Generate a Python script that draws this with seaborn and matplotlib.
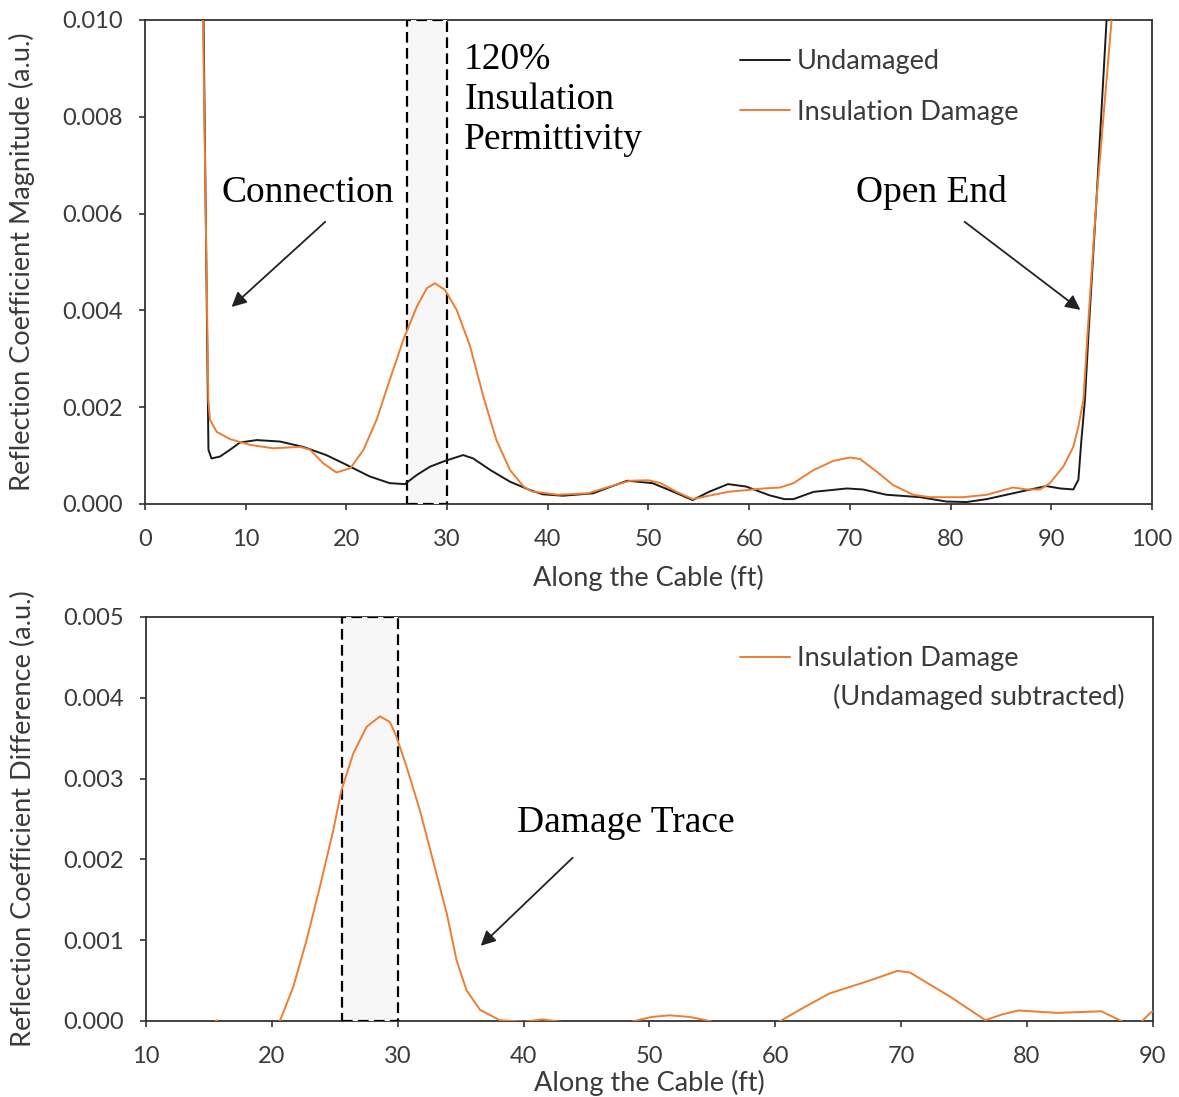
import numpy as np
import pandas as pd
import matplotlib
matplotlib.use("Agg")
import matplotlib.pyplot as plt
from matplotlib.ticker import FormatStrFormatter, MultipleLocator
import seaborn as sns

# ---- reflection coefficient magnitude along the cable (top panel) ----
undamaged_ft = [5.8, 6.25, 6.3, 6.6, 7.45, 8.44, 9.43, 11.1, 13.4, 15.7, 18.0, 20.0,
                22.3, 24.3, 25.8, 27.0, 28.3, 29.8, 31.6, 32.6, 34.3, 36.25, 38.2,
                39.5, 41.5, 44.5, 46.3, 47.9, 50.4, 52.5, 54.4, 56.0, 57.9, 59.7,
                62.0, 63.5, 64.4, 66.4, 69.7, 71.3, 73.65, 77.0, 79.6, 81.6, 83.6,
                86.2, 89.5, 90.9, 92.2, 92.7, 93.0, 93.35, 93.7, 94.5, 95.5, 95.8]
undamaged_mag = [0.0102, 0.0020, 0.00112, 0.00094, 0.00098, 0.00112, 0.00127, 0.00132,
                 0.00129, 0.00118, 0.00101, 0.00081, 0.00057, 0.00043, 0.00041, 0.0006,
                 0.00077, 0.00089, 0.00101, 0.00094, 0.0007, 0.00046, 0.00029, 0.0002,
                 0.00017, 0.00022, 0.00036, 0.00048, 0.00043, 0.00025, 0.00008,
                 0.00025, 0.00041, 0.00036, 0.00018, 0.0001, 0.0001, 0.00025, 0.00032,
                 0.0003, 0.00019, 0.00014, 0.00005, 0.00004, 0.0001, 0.00022, 0.00037,
                 0.00032, 0.0003, 0.0005, 0.00132, 0.00215, 0.0035, 0.0063, 0.0100, 0.0108]

damaged_ft = [5.75, 6.29, 6.45, 7.12, 8.44, 10.43, 12.74, 15.4, 16.4, 17.7, 19.0, 20.4,
              21.7, 23.0, 24.3, 25.65, 27.0, 28.0, 28.8, 29.8, 30.95, 32.3, 33.6, 34.9,
              36.25, 37.6, 38.4, 41.0, 44.0, 46.0, 48.2, 50.0, 51.2, 52.8, 54.4, 56.0,
              57.9, 61.4, 63.06, 64.4, 66.4, 68.35, 70.0, 71.0, 72.66, 74.3, 76.3,
              77.95, 81.26, 83.6, 86.2, 87.55, 88.9, 89.87, 91.2, 92.2, 92.7, 93.2,
              93.6, 94.5, 96.0, 96.3]
damaged_mag = [0.0102, 0.00215, 0.00174, 0.00149, 0.00134, 0.00122, 0.00115, 0.00118,
               0.00112, 0.00084, 0.00065, 0.00074, 0.00112, 0.00174, 0.00256, 0.00339,
               0.00408, 0.00446, 0.00456, 0.00442, 0.00401, 0.00325, 0.00222, 0.00132,
               0.0007, 0.00036, 0.00026, 0.00019, 0.00022, 0.00035, 0.00048, 0.00049,
               0.00043, 0.00025, 0.0001, 0.00017, 0.00025, 0.00032, 0.00034, 0.00043,
               0.0007, 0.00089, 0.00096, 0.00093, 0.00067, 0.00039, 0.00019, 0.00014,
               0.00014, 0.00019, 0.00034, 0.0003, 0.0003, 0.00043, 0.00077, 0.00118,
               0.0016, 0.00215, 0.0035, 0.0063, 0.0100, 0.0108]

# ---- damaged minus undamaged (bottom panel) ----
diff_ft = [10.0, 13.0, 15.0, 15.6, 16.2, 18.5, 20.64, 21.7, 22.76, 23.82, 24.88, 25.54,
           26.47, 27.53, 28.59, 29.38, 29.9, 30.7, 31.76, 32.8, 33.9, 34.68, 35.47,
           36.53, 38.1, 39.2, 40.0, 41.5, 43.0, 45.5, 48.8, 50.2, 51.6, 53.2, 54.8,
           57.5, 60.4, 62.3, 64.3, 67.5, 69.7, 70.7, 72.3, 73.9, 76.7, 78.0, 79.3,
           82.4, 85.9, 87.5, 88.5, 89.8, 90.0]
diff_val = [-0.0003, -0.0004, -0.0001, 0.00001, -0.0001, -0.0008, 0.0, 0.00042, 0.001,
            0.00166, 0.00236, 0.00286, 0.00331, 0.00364, 0.00377, 0.0037, 0.00352,
            0.00315, 0.00261, 0.00199, 0.00133, 0.00075, 0.00038, 0.00014, 0.00001,
            0.0, -0.00001, 0.00002, -0.00001, -0.0002, 0.0, 0.00005, 0.00007, 0.00005,
            0.0, -0.0002, 0.0, 0.00017, 0.00034, 0.0005, 0.00062, 0.0006, 0.00045,
            0.0003, 0.00001, 0.00008, 0.00013, 0.0001, 0.00012, 0.0, -0.0001, 0.0001,
            0.00012]

damage_zone_top = (26.0, 30.0)
damage_zone_bottom = (25.6, 30.0)

ORANGE = "#ED7D31"
BLACK = "#1a1a1a"
TEXT = "#3a3a3a"

sns.set_theme(style="white")
plt.rcParams["font.family"] = ["Lato", "DejaVu Sans"]

fig = plt.figure(figsize=(11.79, 10.97), dpi=100)
ax1 = fig.add_axes([0.123, 0.5406, 0.854, 0.4412])
ax2 = fig.add_axes([0.1238, 0.0693, 0.854, 0.3683])

TICK_FS = 17
LABEL_FS = 19.5
NOTE_FS = 27
SERIF = ["Liberation Serif", "DejaVu Serif"]
DASH = (0, (4.8, 2.4))

def style_axes(ax):
    for s in ax.spines.values():
        s.set_visible(True)
        s.set_color("#333333")
        s.set_linewidth(1.3)
    ax.tick_params(axis="both", which="major", direction="out", length=4,
                   width=1.2, color="#333333", labelsize=TICK_FS, labelcolor=TEXT,
                   bottom=True, left=True)
    ax.tick_params(axis="y", pad=12)
    ax.tick_params(axis="x", pad=14)
    ax.yaxis.set_major_formatter(FormatStrFormatter("%.3f"))

def place_labels(ax, xlabel, ylabel):
    ax.set_xlabel(xlabel, fontsize=LABEL_FS, color=TEXT)
    ax.set_ylabel(ylabel, fontsize=LABEL_FS, color=TEXT)
    ax.xaxis.set_label_coords(0.5, -0.153)
    ax.xaxis.label.set_va("center")
    ax.yaxis.set_label_coords(-0.122, 0.5)
    ax.yaxis.label.set_va("center")

arrow = dict(arrowstyle="-|>", mutation_scale=22, lw=1.3, color="#222222",
             shrinkA=0, shrinkB=0)

# ---------- top panel ----------
top_df = pd.concat([
    pd.DataFrame({"ft": undamaged_ft, "mag": undamaged_mag, "series": "Undamaged"}),
    pd.DataFrame({"ft": damaged_ft, "mag": damaged_mag, "series": "Insulation Damage"}),
])
ax1.axvspan(*damage_zone_top, facecolor="#f7f7f7", edgecolor="black",
            linestyle=DASH, linewidth=1.6, zorder=2.6)
sns.lineplot(data=top_df, x="ft", y="mag", hue="series", ax=ax1,
             palette={"Undamaged": BLACK, "Insulation Damage": ORANGE},
             estimator=None, sort=False, linewidth=1.4, zorder=3)
ax1.set_xlim(0, 100)
ax1.set_ylim(0, 0.010)
ax1.xaxis.set_major_locator(MultipleLocator(10))
ax1.yaxis.set_major_locator(MultipleLocator(0.002))
style_axes(ax1)
place_labels(ax1, "Along the Cable (ft)", "Reflection Coefficient Magnitude (a.u.)")

leg1 = ax1.legend(loc="upper left", bbox_to_anchor=(0.591, 0.9396), frameon=False,
                  fontsize=LABEL_FS, handlelength=1.85, handletextpad=0.26,
                  labelspacing=0.94, borderaxespad=0, borderpad=0)
for t in leg1.get_texts():
    t.set_color(TEXT)

ax1.text(31.7, 0.00835, "120%\nInsulation\nPermittivity", family=SERIF,
         fontsize=NOTE_FS, color="black", va="center", ha="left", linespacing=1.2)
ax1.text(7.6, 0.00643, "Connection", family=SERIF, fontsize=NOTE_FS, color="black",
         va="center", ha="left")
ax1.text(70.6, 0.00643, "Open End", family=SERIF, fontsize=NOTE_FS, color="black",
         va="center", ha="left")
ax1.annotate("", xy=(8.6, 0.00407), xytext=(17.9, 0.00583), arrowprops=arrow)
ax1.annotate("", xy=(92.9, 0.00401), xytext=(81.4, 0.00583), arrowprops=arrow)

# ---------- bottom panel ----------
diff_df = pd.DataFrame({"ft": diff_ft, "diff": diff_val})
ax2.axvspan(*damage_zone_bottom, facecolor="#f7f7f7", edgecolor="black",
            linestyle=DASH, linewidth=1.6, zorder=2.6)
sns.lineplot(data=diff_df, x="ft", y="diff", ax=ax2, color=ORANGE,
             estimator=None, sort=False, linewidth=1.4, zorder=3,
             label="Insulation Damage")
ax2.set_xlim(10, 90)
ax2.set_ylim(0, 0.005)
ax2.xaxis.set_major_locator(MultipleLocator(10))
ax2.yaxis.set_major_locator(MultipleLocator(0.001))
style_axes(ax2)
place_labels(ax2, "Along the Cable (ft)", "Reflection Coefficient Difference (a.u.)")

leg2 = ax2.legend(loc="upper left", bbox_to_anchor=(0.590, 0.928), frameon=False,
                  fontsize=LABEL_FS, handlelength=1.85, handletextpad=0.26,
                  borderaxespad=0, borderpad=0)
for t in leg2.get_texts():
    t.set_color(TEXT)
ax2.text(0.682, 0.802, "(Undamaged subtracted)", transform=ax2.transAxes,
         fontsize=LABEL_FS, color=TEXT, va="center", ha="left")

ax2.text(39.5, 0.00245, "Damage Trace", family=SERIF, fontsize=NOTE_FS, color="black",
         va="center", ha="left")
ax2.annotate("", xy=(36.6, 0.00093), xytext=(43.9, 0.00202), arrowprops=arrow)

fig.savefig("out.png", dpi=100, facecolor="white")
